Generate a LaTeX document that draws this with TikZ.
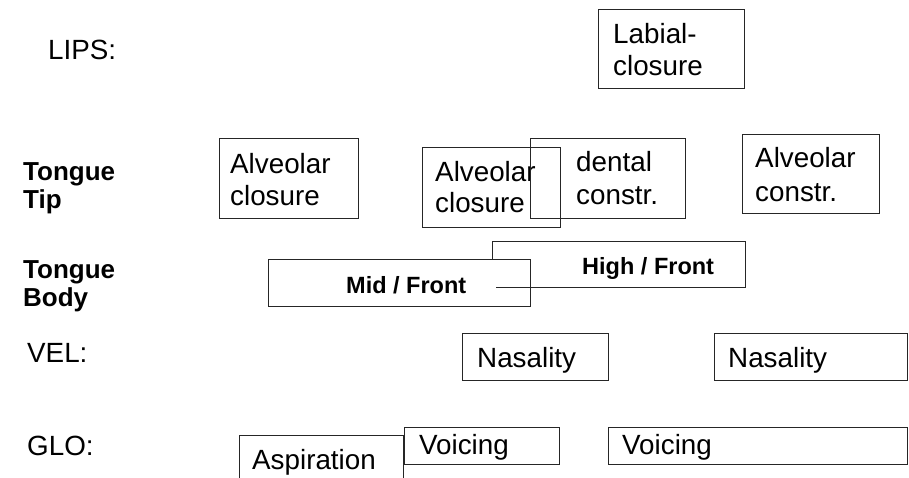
\documentclass[tikz,border=0pt]{standalone}
\usepackage{fontspec}
\setmainfont{Liberation Sans}
\begin{document}
\begin{tikzpicture}[x=1pt,y=-1pt,
  frame/.style={draw=black!85, line width=1pt},
  box/.style={frame, anchor=north west, inner sep=0pt, outer sep=0pt},
  word/.style={anchor=base west, inner sep=0pt, font=\fontsize{27.8}{31.6}\selectfont},
  tier/.style={anchor=base west, inner sep=0pt, font=\fontsize{26}{28}\selectfont\bfseries},
  gest/.style={anchor=base west, inner sep=0pt, font=\fontsize{23.5}{26}\selectfont\bfseries}]
\useasboundingbox (0,0) rectangle (909,477);

% tier labels
\node[word] (lips) at (48,59) {LIPS:};
\node[tier] (tt1) at (23,180) {Tongue};
\node[tier] (tt2) at (23,208) {Tip};
\node[tier] (tb1) at (23,278) {Tongue};
\node[tier] (tb2) at (23,306) {Body};
\node[word] (vel) at (27,362) {VEL:};
\node[word] (glo) at (27,455) {GLO:};

% lips gesture
\node[box, minimum width=146, minimum height=79] (labial) at (598,9) {};
\node[word] (labial1) at (613,43) {Labial-};
\node[word] (labial2) at (613,75) {closure};

% tongue tip gestures
\node[box, minimum width=139, minimum height=80] (alvA) at (219,138) {};
\node[word] (alvA1) at (230,173) {Alveolar};
\node[word] (alvA2) at (230,205) {closure};

\node[box, minimum width=138, minimum height=80] (alvB) at (422,147) {};
\node[word] (alvB1) at (435,181) {Alveolar};
\node[word] (alvB2) at (435,212) {closure};

\node[box, minimum width=155, minimum height=80] (dental) at (530,138) {};
\node[word] (dental1) at (576,171) {dental};
\node[word] (dental2) at (576,204) {constr.};

\node[box, minimum width=137, minimum height=79] (alvC) at (742,134) {};
\node[word] (alvC1) at (755,167) {Alveolar};
\node[word] (alvC2) at (755,201) {constr.};

% tongue body gestures
\coordinate (hiA) at (492,259);
\coordinate (hiB) at (492,241);
\coordinate (hiC) at (745,241);
\coordinate (hiD) at (745,287);
\coordinate (hiE) at (496,287);
\draw[frame] (hiA) -- (hiB) -- (hiC) -- (hiD) -- (hiE);
\node[gest] (high) at (582,274) {High / Front};

\node[box, minimum width=262, minimum height=47] (mid) at (268,259) {};
\node[gest] (midtxt) at (346,293) {Mid / Front};

% velum gestures
\node[box, minimum width=146, minimum height=47] (nasA) at (462,333) {};
\node[word] (nasA1) at (477,367) {Nasality};
\node[box, minimum width=193, minimum height=47] (nasB) at (714,333) {};
\node[word] (nasB1) at (728,367) {Nasality};

% glottis gestures
\coordinate (aspA) at (239,478);
\coordinate (aspB) at (239,435);
\coordinate (aspC) at (403.5,435);
\coordinate (aspD) at (403.5,478);
\draw[frame] (aspA) -- (aspB) -- (aspC) -- (aspD);
\node[word] (asp) at (252,469) {Aspiration};

\node[box, minimum width=155, minimum height=37] (voiA) at (404,427) {};
\node[word] (voiA1) at (419,454) {Voicing};
\node[box, minimum width=299, minimum height=37] (voiB) at (608,427) {};
\node[word] (voiB1) at (622,454) {Voicing};
\end{tikzpicture}
\end{document}
